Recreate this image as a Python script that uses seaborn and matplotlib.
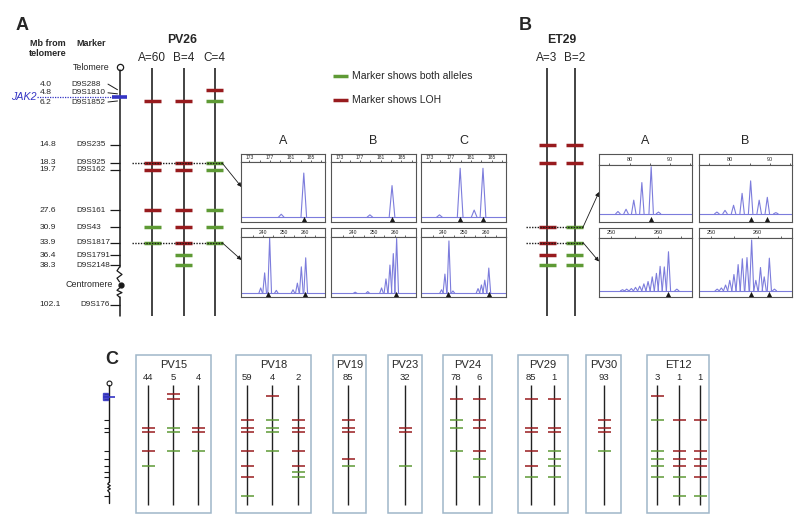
import numpy as np
import pandas as pd
import seaborn as sns
import matplotlib.pyplot as plt
from matplotlib.patches import Rectangle

sns.set_theme(style="white")
plt.rcParams["font.family"] = ["Liberation Sans", "DejaVu Sans"]

W, H = 800, 519

RED = "#981b1e"
GREEN = "#5e9a35"
BLUE = "#3434c4"
TRACE = "#7c7cdc"
BOXC = "#9fb6c9"

# microsatellite markers on 9p, Mb from telomere
MARKERS = ["D9S288", "D9S1810", "D9S1852", "D9S235", "D9S925", "D9S162",
           "D9S161", "D9S43", "D9S1817", "D9S1791", "D9S2148", "D9S176"]
MB = [4.0, 4.8, 6.2, 14.8, 18.3, 19.7, 27.6, 30.9, 33.9, 36.4, 38.3, 102.1]
JAK2_MB = 5.4
CENTROMERE_MB = 42.2
BREAK_SHIFT = 56.0  # markers past the centromere are drawn on a squeezed stub

# R = marker shows LOH, G = marker shows both alleles, . = not shown
PV26_COLS = ["A=60", "B=4", "C=4"]
PV26_CALLS = ["..R.RRRGG...", "..R.RRRRRGG.", "R.G.GGGGG..."]
ET29_COLS = ["A=3", "B=2"]
ET29_CALLS = ["...RR..RRRG.", "...RR..GGGG."]

C_PATIENTS = ["PV15", "PV18", "PV19", "PV23", "PV24", "PV29", "PV30", "ET12"]
C_COUNTS = [[44, 5, 4], [59, 4, 2], [85], [32], [78, 6], [85, 1], [93], [3, 1, 1]]
C_CALLS = [
    ["....RRR.G...", "R.R.GGG.....", "....RRG....."],
    ["...RRRR.R.RG", ".R.GGGG.....", "...RRRR.RGG."],
    ["...RRR.RG..."],
    ["....RR..G..."],
    ["..RGG.G.....", "..RRR.RG..G."],
    ["..R.RRR.R.G.", "..R.RRGGG.G."],
    ["...RRRG....."],
    [".R.G..GGG.G.", "...R..RRR.GG", "...R..RRR.RG"],
]

# electropherogram peaks: (size in bp, relative height)
PV26_925_PEAKS = [
    [(179.2, 0.13), (183.6, 0.82)],
    [(178.9, 0.12), (183.2, 0.61)],
    [(174.9, 0.12), (178.9, 0.90), (181.6, 0.20), (183.3, 0.90)],
]
PV26_925_ALLELES = [[183.6], [183.2], [178.9, 183.3]]
PV26_1817_PEAKS = [
    [(238.9, 0.15), (240.8, 0.40), (243.2, 0.98), (246.4, 0.11), (254.4, 0.12),
     (256.5, 0.23), (258.4, 0.50), (260.5, 0.65)],
    [(241.0, 0.08), (247.0, 0.09), (253.6, 0.15), (255.7, 0.30), (257.6, 0.53),
     (259.2, 0.72), (260.8, 0.97)],
    [(239.2, 0.12), (240.8, 0.38), (242.7, 0.93), (244.6, 0.10), (256.5, 0.14),
     (258.1, 0.20), (259.7, 0.28), (261.6, 0.48)],
]
PV26_1817_ALLELES = [[242.4, 260.3], [260.3], [242.4, 261.6]]

ET29_43_PEAKS = [
    [(77.1, 0.18), (79.1, 0.22), (81.0, 0.38), (83.0, 0.69), (85.3, 0.97), (87.1, 0.17)],
    [(76.9, 0.17), (78.9, 0.20), (81.0, 0.29), (83.1, 0.50), (85.2, 0.72), (87.3, 0.38),
     (89.3, 0.43), (91.4, 0.16)],
]
ET29_43_ALLELES = [[85.2], [85.2, 89.3]]
ET29_1817_PEAKS = [
    [(252.4, 0.12), (253.3, 0.13), (254.3, 0.14), (255.2, 0.16), (256.1, 0.18),
     (257.0, 0.22), (257.9, 0.26), (258.8, 0.34), (259.7, 0.40), (260.5, 0.52),
     (261.4, 0.51), (262.3, 0.77), (264.1, 0.13)],
    [(251.3, 0.13), (252.2, 0.15), (253.1, 0.20), (254.0, 0.28), (254.9, 0.38),
     (255.8, 0.55), (256.7, 0.65), (257.7, 0.67), (258.7, 0.97), (259.6, 0.28),
     (260.6, 0.50), (261.4, 0.34), (262.5, 0.66), (263.6, 0.13)],
]
ET29_1817_ALLELES = [[262.2], [258.6, 262.5]]


def plot_mb(mb):
    return mb - BREAK_SHIFT if mb > 60 else mb


def a_mb(y):   # pixel row -> Mb on the big maps
    return (y - 69.3) / 5.11


def c_mb(y):   # pixel row -> Mb on the small maps of panel C
    return (y - 384) / 2.43


fig = plt.figure(figsize=(W / 100, H / 100), dpi=100)
bg = fig.add_axes([0, 0, 1, 1])
bg.set_xlim(0, W)
bg.set_ylim(H, 0)
bg.axis("off")


def px_axes(x0, y0, x1, y1):
    return fig.add_axes([x0 / W, 1 - y1 / H, (x1 - x0) / W, (y1 - y0) / H])


def squiggle(ax, x, y0, y1, amp, n=5):
    ys = np.linspace(y0, y1, n)
    xs = x + amp * np.array([0, -1, 1, -1, 1, -1, 0][:n])
    xs[-1] = x
    ax.plot(xs, ys, color="k", lw=0.9)


def draw_calls(ax, xs, calls, half, lw):
    for cx, call in zip(xs, calls):
        for mb, c in zip(MB, call):
            if c == ".":
                continue
            ax.hlines(plot_mb(mb), cx - half, cx + half,
                      colors=RED if c == "R" else GREEN, lw=lw, zorder=3)


# ---------------- panels A and B: maps ----------------
axA = px_axes(0, 0, W, 330)
axA.set_xlim(0, W)
axA.set_ylim(a_mb(330), a_mb(0))
axA.axis("off")

CHROM_X = 119.5
axA.plot(CHROM_X, a_mb(67), "o", ms=4.5, mfc="white", mec="k", mew=0.9)
axA.plot([CHROM_X, CHROM_X], [a_mb(70), 38.7], color="k", lw=1.1)
squiggle(axA, CHROM_X, 38.7, 41.6, 2.5)
axA.plot(CHROM_X + 1, CENTROMERE_MB, "o", ms=3.5, color="k")
squiggle(axA, CHROM_X, 42.8, 44.6, 2.5)
axA.plot([CHROM_X, CHROM_X], [44.6, a_mb(316)], color="k", lw=1.1)

label_mb = [2.9, 4.6, 6.4] + [plot_mb(m) for m in MB[3:]]
for i, (name, mb) in enumerate(zip(MARKERS, MB)):
    ly = label_mb[i]
    if i < 3:
        axA.plot([108, 117.5], [ly, mb], color="k", lw=0.7)
        nx = 71
    else:
        axA.hlines(plot_mb(mb), 110, CHROM_X, colors="k", lw=0.9)
        nx = 80 if i == len(MB) - 1 else 76
    axA.text(39.5, ly, f"{mb:.1f}", ha="left", va="center", fontsize=6.1)
    axA.text(nx, ly, name, ha="left", va="center", fontsize=5.9)

axA.text(110, a_mb(67), "Telomere", ha="right", va="center", fontsize=6.4)
axA.text(113, CENTROMERE_MB, "Centromere", ha="right", va="center", fontsize=6.4)

# JAK2
axA.hlines(JAK2_MB, 37, CHROM_X, colors=BLUE, lw=0.9, linestyles=(0, (1, 1)))
axA.hlines(JAK2_MB, 112, 127, colors=BLUE, lw=2.6, zorder=4)
axA.text(24, JAK2_MB, "JAK2", color=BLUE, fontsize=7.7, style="italic",
         ha="center", va="center")

PV26_X = [152, 183.5, 214.5]
ET29_X = [547, 574.5]
axA.vlines(PV26_X + ET29_X, a_mb(68), a_mb(316), colors="#222222", lw=1.2)
draw_calls(axA, PV26_X, PV26_CALLS, 8.5, 2.5)
draw_calls(axA, ET29_X, ET29_CALLS, 8.5, 2.5)

axA.hlines([MB[4], MB[8]], 132, 222, colors="k", lw=1.0, linestyles=(0, (1, 1)), zorder=5)
axA.hlines([MB[7], MB[8]], 526, 583, colors="k", lw=1.0, linestyles=(0, (1, 1)), zorder=5)
arrow = dict(arrowstyle="-|>", color="k", lw=0.6, mutation_scale=6, shrinkA=0, shrinkB=0)
for start, end in [((222, MB[4]), (241.5, 187)), ((222, MB[8]), (241.5, 260)),
                   ((583, MB[7]), (599, 192)), ((583, MB[8]), (599, 261.5))]:
    axA.annotate("", xy=end, xycoords=bg.transData, xytext=start,
                 textcoords="data", arrowprops=arrow)

# headings
bg.text(22, 26, "A", fontsize=13, fontweight="bold", ha="center", va="center")
bg.text(525, 25, "B", fontsize=13, fontweight="bold", ha="center", va="center")
bg.text(112, 359, "C", fontsize=13, fontweight="bold", ha="center", va="center")
bg.text(48, 48.5, "Mb from\ntelomere", fontsize=6.5, fontweight="bold",
        ha="center", va="center", linespacing=1.1)
bg.text(91, 43.5, "Marker", fontsize=6.5, fontweight="bold", ha="center", va="center")
bg.text(182, 40, "PV26", fontsize=8.8, fontweight="bold", ha="center", va="center")
bg.text(562, 40, "ET29", fontsize=8.8, fontweight="bold", ha="center", va="center")
for cx, lab in zip(PV26_X + ET29_X, PV26_COLS + ET29_COLS):
    bg.text(cx, 58, lab, fontsize=8.5, ha="center", va="center")

# legend
bg.hlines(76, 333, 348, colors=GREEN, lw=2.5)
bg.hlines(100, 333, 348, colors=RED, lw=2.5)
bg.text(352, 76, "Marker shows both alleles", fontsize=7.5, va="center")
bg.text(352, 100, "Marker shows LOH", fontsize=7.5, va="center")


# ---------------- electropherogram insets ----------------
def draw_trace(box, head_y, xlim, majors, minors, peaks, alleles, base, half, lsize, pad):
    x0, y0, x1, y1 = box
    hx = px_axes(x0, y0, x1, head_y)
    tx = px_axes(x0, head_y, x1, y1)
    rows = [("base", xlim[0], base), ("base", xlim[1], base)]
    for k, (pos, ht) in enumerate(peaks):
        rows += [(f"p{k}", pos - half, base), (f"p{k}", pos, ht), (f"p{k}", pos + half, base)]
    df = pd.DataFrame(rows, columns=["peak", "bp", "signal"])
    sns.lineplot(data=df, x="bp", y="signal", units="peak", estimator=None,
                 color=TRACE, lw=0.8, ax=tx, legend=False)
    sns.scatterplot(x=alleles, y=[0.045] * len(alleles), marker="^", color="k",
                    s=14, linewidth=0, ax=tx, clip_on=False, zorder=5)
    tx.set(xlim=xlim, ylim=(0, 1.0), xlabel="", ylabel="", xticks=[], yticks=[])
    hx.set(xlim=xlim, ylim=(0, 1), yticks=[])
    hx.set_xticks(majors)
    hx.set_xticklabels([str(m) for m in majors])
    hx.set_xticks(minors, minor=True)
    hx.tick_params(axis="x", which="both", direction="in", bottom=True,
                   length=1.8, width=0.5, labelsize=lsize, pad=pad)
    hx.tick_params(axis="x", which="minor", length=1.2)
    for a in (hx, tx):
        for sp in a.spines.values():
            sp.set_visible(True)
            sp.set_color("#555555")
            sp.set_linewidth(0.8)
    return tx


A_BOX_X = [(241.3, 325.3), (331.3, 415.7), (421.3, 506.3)]
for j, (bx0, bx1) in enumerate(A_BOX_X):
    bg.text((bx0 + bx1) / 2, 140.5, "ABC"[j], fontsize=9, ha="center", va="center")
    draw_trace((bx0, 154.3, bx1, 222), 162.3, (171.4, 187.8), [173, 177, 181, 185],
               [175, 179, 183, 187], PV26_925_PEAKS[j], PV26_925_ALLELES[j],
               0.08, 0.55, 3.6, -4.9)
    draw_trace((bx0, 228.5, bx1, 297), 236.7, (229.6, 269.9), [240, 250, 260],
               [235, 245, 255, 265], PV26_1817_PEAKS[j], PV26_1817_ALLELES[j],
               0.06, 0.9, 3.6, -4.9)

B_BOX_X = [(599.3, 691.7), (699, 791.7)]
for j, (bx0, bx1) in enumerate(B_BOX_X):
    bg.text((bx0 + bx1) / 2, 141, "AB"[j], fontsize=9, ha="center", va="center")
    draw_trace((bx0, 154, bx1, 221.7), 165, (72.5, 95.3), [80, 90], [75, 85, 95],
               ET29_43_PEAKS[j], ET29_43_ALLELES[j], 0.14, 0.55, 4.0, -6.0)
    draw_trace((bx0, 227.7, bx1, 296.7), 238.3, (247.4, 267.3), [250, 260],
               [255, 265], ET29_1817_PEAKS[j], ET29_1817_ALLELES[j],
               0.10, 0.45, 4.0, -6.0)

# ---------------- panel C ----------------
axC = px_axes(0, 330, W, H)
axC.set_xlim(0, W)
axC.set_ylim(c_mb(H), c_mb(330))
axC.axis("off")

SMALL_X = 109
axC.plot(SMALL_X, c_mb(382.7), "o", ms=3.5, mfc="white", mec="k", mew=0.8)
axC.plot([SMALL_X, SMALL_X], [c_mb(385), 40.5], color="k", lw=1.0)
squiggle(axC, SMALL_X, 40.5, 44.5, 1.3, n=7)
axC.plot([SMALL_X, SMALL_X], [44.5, c_mb(503)], color="k", lw=1.0)
axC.hlines([plot_mb(m) for m in MB], 104, SMALL_X, colors="k", lw=0.8)
axC.add_patch(Rectangle((103, 3.8), 5, 2.6, facecolor=BLUE, edgecolor=BLUE, alpha=0.85, zorder=4))
axC.hlines(JAK2_MB, 103, 115, colors=BLUE, lw=1.2, zorder=4)

C_BOX_X = [(136, 211), (236, 311), (333, 366), (388, 422), (443, 492),
           (518, 568), (586, 621), (647, 709)]
C_COL_X = [[148, 173, 198], [247, 272, 298], [348], [405], [456, 479],
           [531, 554], [604], [657, 679, 700]]
for name, (bx0, bx1), xs, counts, calls in zip(C_PATIENTS, C_BOX_X, C_COL_X, C_COUNTS, C_CALLS):
    bg.add_patch(Rectangle((bx0, 355), bx1 - bx0, 158, fill=False, edgecolor=BOXC, lw=1.1))
    bg.text((bx0 + bx1) / 2, 364.5, name, fontsize=8, ha="center", va="center")
    for cx, n in zip(xs, counts):
        bg.text(cx, 377, str(n), fontsize=6.8, ha="center", va="center")
    axC.vlines(xs, c_mb(385), c_mb(505), colors="#222222", lw=1.0)
    draw_calls(axC, xs, calls, 6.5, 1.1)

fig.savefig("out.png", dpi=100)
